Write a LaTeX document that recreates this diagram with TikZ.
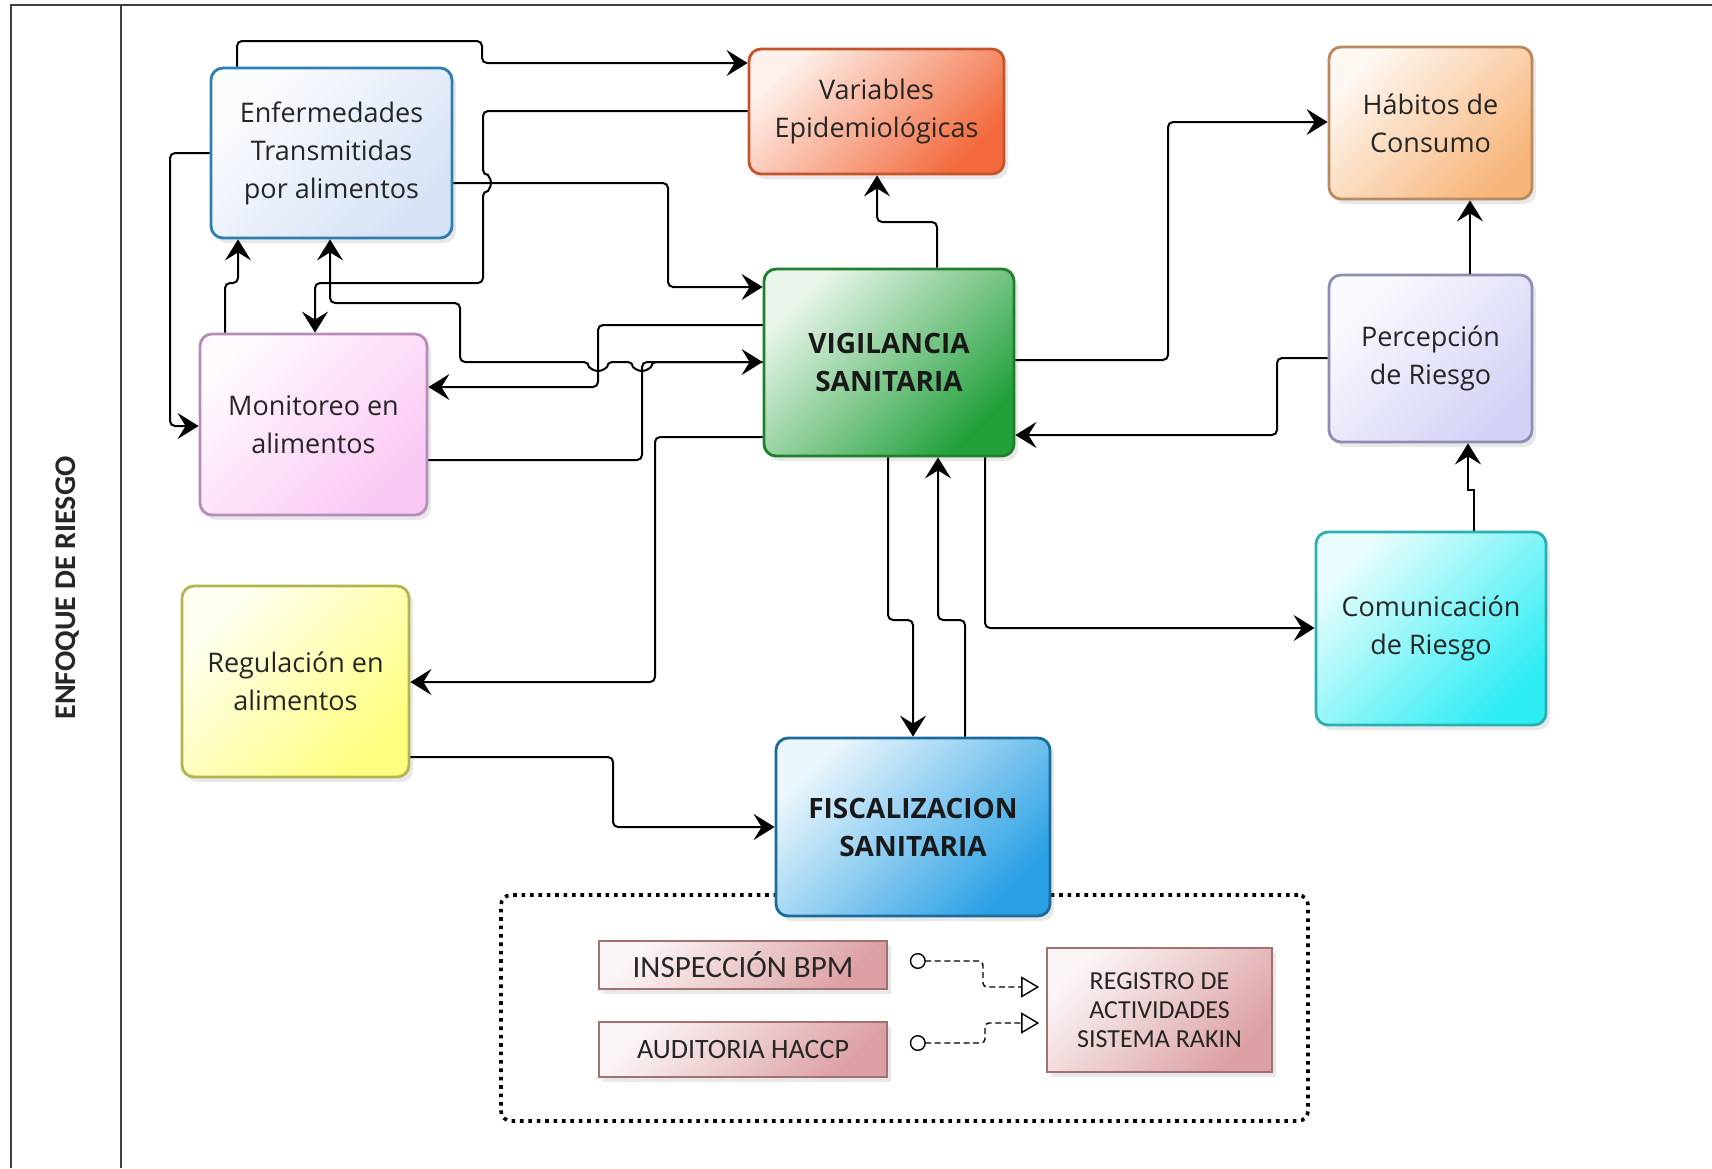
\documentclass[tikz,border=0pt]{standalone}
\usepackage{fontspec}
\setmainfont{Open Sans}
\newfontfamily\carlito{Carlito}
\usepackage{xcolor}
\usepackage{tikz}
\usetikzlibrary{arrows.meta,shadows}

\definecolor{lETA}{HTML}{2F7EB0}\definecolor{fETA}{HTML}{D6E2F5}
\definecolor{lVE}{HTML}{C4552B}\definecolor{fVE}{HTML}{F26A3C}
\definecolor{lHC}{HTML}{B98A5E}\definecolor{fHC}{HTML}{F7B57A}
\definecolor{lVS}{HTML}{1F7F2C}\definecolor{fVS}{HTML}{22A03A}
\definecolor{lMA}{HTML}{B58DB8}\definecolor{fMA}{HTML}{FAC8F4}
\definecolor{lPR}{HTML}{8E8EB4}\definecolor{fPR}{HTML}{D2D2F6}
\definecolor{lCR}{HTML}{2AB0B3}\definecolor{fCR}{HTML}{2DEDF3}
\definecolor{lRA}{HTML}{B3B350}\definecolor{fRA}{HTML}{FFFF80}
\definecolor{lFS}{HTML}{1B6A9C}\definecolor{fFS}{HTML}{2AA0E4}
\definecolor{lRS}{HTML}{A27272}\definecolor{fRS}{HTML}{DCA0A4}

\begin{document}
\begin{tikzpicture}[x=0.5pt, y=0.5pt, >={Stealth[length=10.5pt,width=13pt,inset=4pt]},
  sombra/.style={drop shadow={shadow xshift=2pt, shadow yshift=-2.5pt, opacity=0.18}},
  caja/.style 2 args={draw=#1, top color=#2!10!white, bottom color=#2, shading angle=45,
    rounded corners=6pt, line width=1.4pt, align=center, text=black!85, sombra,
    font=\fontsize{13.5}{19}\selectfont},
  negrita/.style={font=\bfseries\fontsize{14}{19}\selectfont, text=black!90},
  ficha/.style={draw=lRS, top color=fRS!10!white, bottom color=fRS, shading angle=45,
    line width=0.8pt, align=center, text=black!85, sombra},
  flecha/.style={->, line width=1pt, rounded corners=2.5pt},
  enlace/.style={line width=0.7pt, dash pattern=on 3pt off 1.8pt, rounded corners=2pt,
    {Circle[open,length=8pt,width=8pt]}-{Triangle[open,length=9pt,width=10.5pt]},
    shorten <=11pt, shorten >=3.5pt},
  marco/.style={line width=1.1pt, black!75}]
\useasboundingbox[fill=white] (0,0) rectangle (1712,-1168);
\draw[marco] (11,-1168) |- (1712,-5);
\draw[marco] (121,-5) -- (121,-1168);
\node[rotate=90, font=\carlito\bfseries\fontsize{15}{18}\selectfont, text=black!85] (ER) at (68,-588) {ENFOQUE DE RIESGO};

\node[caja={lETA}{fETA}, minimum width=120.5pt, minimum height=85pt] (ETA) at (331.5,-153) {Enfermedades\\Transmitidas\\por alimentos};
\node[caja={lVE}{fVE}, minimum width=127.5pt, minimum height=62.5pt] (VE) at (876.5,-111.5) {Variables\\Epidemiológicas};
\node[caja={lHC}{fHC}, minimum width=101.5pt, minimum height=76pt] (HC) at (1430.5,-123) {Hábitos de\\Consumo};
\node[caja={lVS}{fVS}, negrita, minimum width=125pt, minimum height=93.5pt] (VS) at (889,-362.5) {VIGILANCIA\\SANITARIA};
\node[caja={lMA}{fMA}, minimum width=113.5pt, minimum height=90.5pt] (MA) at (313.5,-424.5) {Monitoreo en\\alimentos};
\node[caja={lPR}{fPR}, minimum width=101.5pt, minimum height=83.5pt] (PR) at (1430.5,-358.5) {Percepción\\de Riesgo};
\node[caja={lCR}{fCR}, minimum width=115pt, minimum height=96.5pt] (CR) at (1431,-628.5) {Comunicación\\de Riesgo};
\node[caja={lRA}{fRA}, minimum width=113.5pt, minimum height=95.5pt] (RA) at (295.5,-681.5) {Regulación en\\alimentos};
\node[draw, rounded corners=5pt, line width=1.8pt, dash pattern=on 1.8pt off 2.4pt, minimum width=403.5pt, minimum height=113pt] (GR) at (904.5,-1008) {};
\node[caja={lFS}{fFS}, negrita, minimum width=137pt, minimum height=89pt] (FS) at (913,-827) {FISCALIZACION\\SANITARIA};
\node[ficha, minimum width=144pt, minimum height=24pt, font=\carlito\fontsize{15.5}{18}\selectfont] (IB) at (743,-965) {INSPECCIÓN BPM};
\node[ficha, minimum width=144pt, minimum height=27.5pt, font=\carlito\fontsize{14}{17}\selectfont] (AH) at (743,-1049.5) {AUDITORIA HACCP};
\node[ficha, minimum width=112.5pt, minimum height=62pt, font=\carlito\fontsize{13}{14.5}\selectfont] (RS) at (1159.5,-1010) {REGISTRO DE\\ACTIVIDADES\\SISTEMA RAKIN};

\draw[flecha] (ETA.north -| 237,0) |- (482,-41) |- (VE.west |- 0,-63);
\draw[flecha] (VE.west |- 0,-111) -| (483,-175) arc[start angle=90, end angle=-90, radius=8] |- (315,-283) -- (MA.north -| 315,0);
\draw[flecha] (ETA.east |- 0,-183) -| (668,-287) -- (VS.west |- 0,-287);
\draw[flecha] (ETA.west |- 0,-153) -| (170,-426) -- (MA.west |- 0,-426);
\draw[flecha] (MA.north -| 225,0) |- (238,-283) -- (ETA.south -| 238,0);
\draw[flecha] (VS.west |- 0,-325) -| (598,-387) -- (MA.east |- 0,-387);
\draw[flecha] (VS.west |- 0,-362) -- (651,-362) arc[start angle=0, end angle=-180, radius=9] -- (607,-362) arc[start angle=0, end angle=-180, radius=9] -| (460,-303) -| (ETA.south -| 330,0);
\draw[flecha] (MA.east |- 0,-460) -| (642,-362) -- (VS.west |- 0,-362);
\draw[flecha] (VS.west |- 0,-437) -| (655,-682) -- (RA.east |- 0,-682);
\draw[flecha] (RA.east |- 0,-757) -| (613,-827) -- (FS.west |- 0,-827);
\draw[flecha] (VS.south -| 888,0) |- (913,-620) -- (FS.north -| 913,0);
\draw[flecha] (FS.north -| 965,0) |- (938,-620) -- (VS.south -| 938,0);
\draw[flecha] (VS.south -| 985,0) |- (CR.west |- 0,-628);
\draw[flecha] (VS.north -| 937,0) |- (877,-222) -- (VE.south -| 877,0);
\draw[flecha] (VS.east |- 0,-360) -| (1168,-122) -- (HC.west |- 0,-122);
\draw[flecha] (PR.west |- 0,-358) -| (1277,-435) -- (VS.east |- 0,-435);
\draw[flecha] (PR.north -| 1470,0) -- (HC.south -| 1470,0);
\draw[flecha, sharp corners] (CR.north -| 1474,0) |- (1468,-490) -- (PR.south -| 1468,0);

\draw[enlace] (IB.east |- 0,-961) -| (983,-987) -- (RS.west |- 0,-987);
\draw[enlace] (AH.east |- 0,-1043) -| (985,-1023) -- (RS.west |- 0,-1023);
\end{tikzpicture}
\end{document}
